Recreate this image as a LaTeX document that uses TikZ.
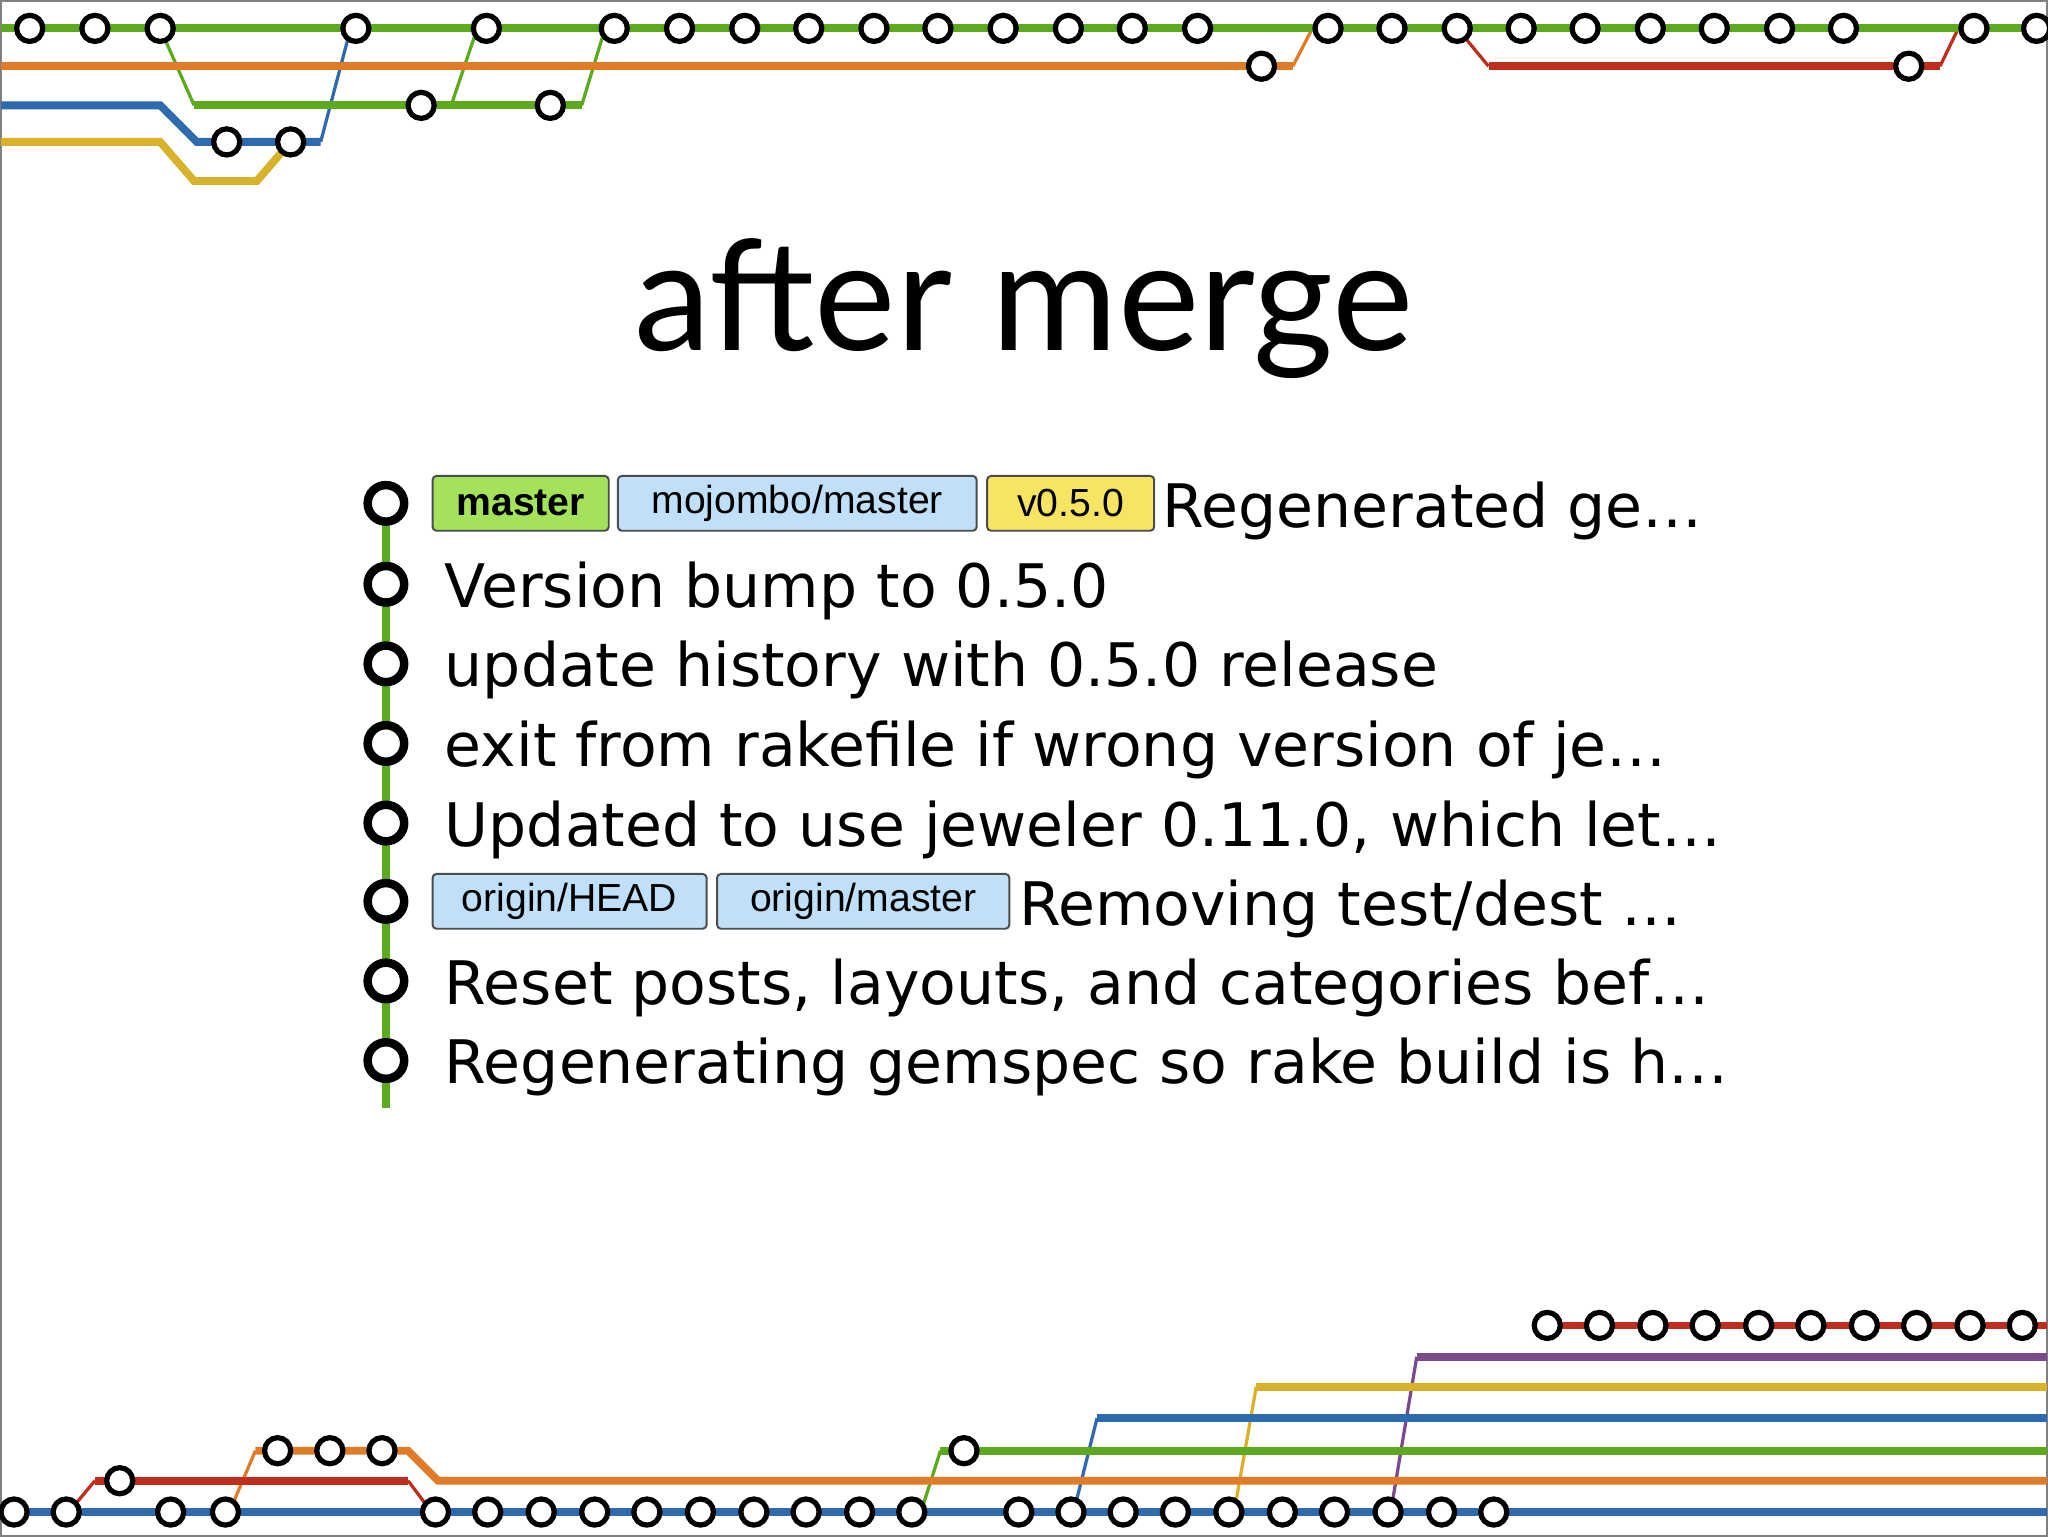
\documentclass[tikz,border=0pt]{standalone}
\usepackage{fontspec}
\setmainfont{DejaVu Sans}
\newfontfamily\titlefont{Lato}
\newfontfamily\tagfont{Liberation Sans}
\begin{document}
\begin{tikzpicture}[x=1pt,y=-1pt]
\definecolor{cgreen}{HTML}{5DAA1F}
\definecolor{corange}{HTML}{E07B28}
\definecolor{cblue}{HTML}{2E6AAE}
\definecolor{cyellow}{HTML}{D8B22A}
\definecolor{cred}{HTML}{BE2E1E}
\definecolor{cpurple}{HTML}{7A4A8A}
\definecolor{tgreen}{HTML}{A5E25B}
\definecolor{tblue}{HTML}{BFE0F8}
\definecolor{tyellow}{HTML}{F7E463}
\tikzset{
 trackline/.style={line width=6pt},
 branchline/.style={line width=2.5pt},
 commitdot/.style={circle,draw=black,fill=white,line width=4pt,minimum size=20pt,inner sep=0pt},
 listdot/.style={circle,draw=black,fill=white,line width=6.5pt,minimum size=28pt,inner sep=0pt},
 tagbox/.style={draw=black!70,line width=1.5pt,rounded corners=3pt,font=\tagfont\fontsize{30}{30}\selectfont,anchor=west,minimum height=42pt,inner xsep=8pt},
 msgtext/.style={anchor=west,font=\fontsize{46}{46}\selectfont,inner sep=0pt}
}
\path[use as bounding box,draw=gray,line width=1.5pt] (0,0) rectangle (1568,1176);
% ---- top graph
\draw[trackline,cyellow] (0,108) -- (122,108) -- (148,138) -- (196,138) -- (222,108);
\draw[trackline,cblue] (0,80) -- (122,80) -- (150,108) -- (245,108);
\draw[branchline,cblue] (245,108) -- (268,21);
\draw[branchline,cgreen] (122,21) -- (148,80);
\draw[trackline,cgreen] (148,80) -- (445,80);
\draw[branchline,cgreen] (345,80) -- (365,21);
\draw[branchline,cgreen] (445,80) -- (463,21);
\draw[trackline,corange] (0,50) -- (990,50);
\draw[branchline,corange] (990,50) -- (1005,21);
\draw[branchline,cred] (1116,21) -- (1140,50);
\draw[trackline,cred] (1140,50) -- (1486,50);
\draw[branchline,cred] (1486,50) -- (1500,21);
\draw[trackline,cgreen] (0,21) -- (1568,21);
\foreach \x [count=\i] in {22,72,122,272,372,470,520,570,619,669,718,768,818,867,917,1017,1066,1116,1165,1214,1264,1313,1363,1412,1512,1560}
  \node[commitdot] (t\i) at (\x,21) {};
\node[commitdot] (o1) at (966,50) {};
\node[commitdot] (r1) at (1462,50) {};
\node[commitdot] (g1) at (322,80) {};
\node[commitdot] (g2) at (421,80) {};
\node[commitdot] (b1) at (173,108) {};
\node[commitdot] (b2) at (222,108) {};
% ---- bottom graph
\draw[trackline,cred] (1185,1015) -- (1568,1015);
\draw[trackline,cpurple] (1085,1039) -- (1568,1039);
\draw[branchline,cpurple] (1085,1039) -- (1065,1158);
\draw[trackline,cyellow] (962,1062) -- (1568,1062);
\draw[branchline,cyellow] (962,1062) -- (945,1158);
\draw[trackline,cblue] (840,1086) -- (1568,1086);
\draw[branchline,cblue] (840,1086) -- (822,1158);
\draw[trackline,cgreen] (720,1111) -- (1568,1111);
\draw[branchline,cgreen] (720,1111) -- (705,1158);
\draw[trackline,corange] (195,1111) -- (312,1111) -- (335,1134) -- (1568,1134);
\draw[branchline,corange] (175,1158) -- (195,1111);
\draw[trackline,cred] (72,1134) -- (312,1134);
\draw[branchline,cred] (52,1158) -- (72,1134);
\draw[branchline,cred] (312,1134) -- (330,1158);
\draw[trackline,cblue] (0,1158) -- (1568,1158);
\foreach \x [count=\i] in {1185,1225,1266,1306,1347,1387,1428,1468,1509,1549}
  \node[commitdot] (u\i) at (\x,1015) {};
\node[commitdot] (bg) at (738,1111) {};
\foreach \x [count=\i] in {212,252,292}
  \node[commitdot] (bo\i) at (\x,1111) {};
\node[commitdot] (br1) at (91,1134) {};
\foreach \x [count=\i] in {10,50,130,172,333,373,414,455,495,536,577,617,658,698,780,820,860,900,941,982,1022,1063,1104,1144}
  \node[commitdot] (bb\i) at (\x,1158) {};
% ---- title
\node[font=\titlefont\fontsize{118}{118}\selectfont] (title) at (784,236) {after merge};
% ---- list
\draw[line width=6pt,cgreen] (295,370) -- (295,848);
\foreach \y [count=\i] in {385,447,508,569,630,690,751,812}
  \node[listdot] (c\i) at (295,\y) {};
\node[tagbox,fill=tgreen,font=\tagfont\bfseries\fontsize{30}{30}\selectfont,minimum width=135pt] (tm) at (330,385) {master};
\node[tagbox,fill=tblue,minimum width=275pt] (tmm) at (472,385) {mojombo/master};
\node[tagbox,fill=tyellow,minimum width=128pt] (tv) at (755,385) {v0.5.0};
\node[msgtext] (m1) at (890,391) {Regenerated ge…};
\node[msgtext] (m2) at (340,452) {Version bump to 0.5.0};
\node[msgtext] (m3) at (340,513) {update history with 0.5.0 release};
\node[msgtext] (m4) at (340,574) {exit from rakefile if wrong version of je…};
\node[msgtext] (m5) at (340,635) {Updated to use jeweler 0.11.0, which let…};
\node[tagbox,fill=tblue,minimum width=210pt] (th) at (330,690) {origin/HEAD};
\node[tagbox,fill=tblue,minimum width=224pt] (tom) at (548,690) {origin/master};
\node[msgtext] (m6) at (780,696) {Removing test/dest …};
\node[msgtext] (m7) at (340,756) {Reset posts, layouts, and categories bef…};
\node[msgtext] (m8) at (340,817) {Regenerating gemspec so rake build is h…};
\end{tikzpicture}
\end{document}
